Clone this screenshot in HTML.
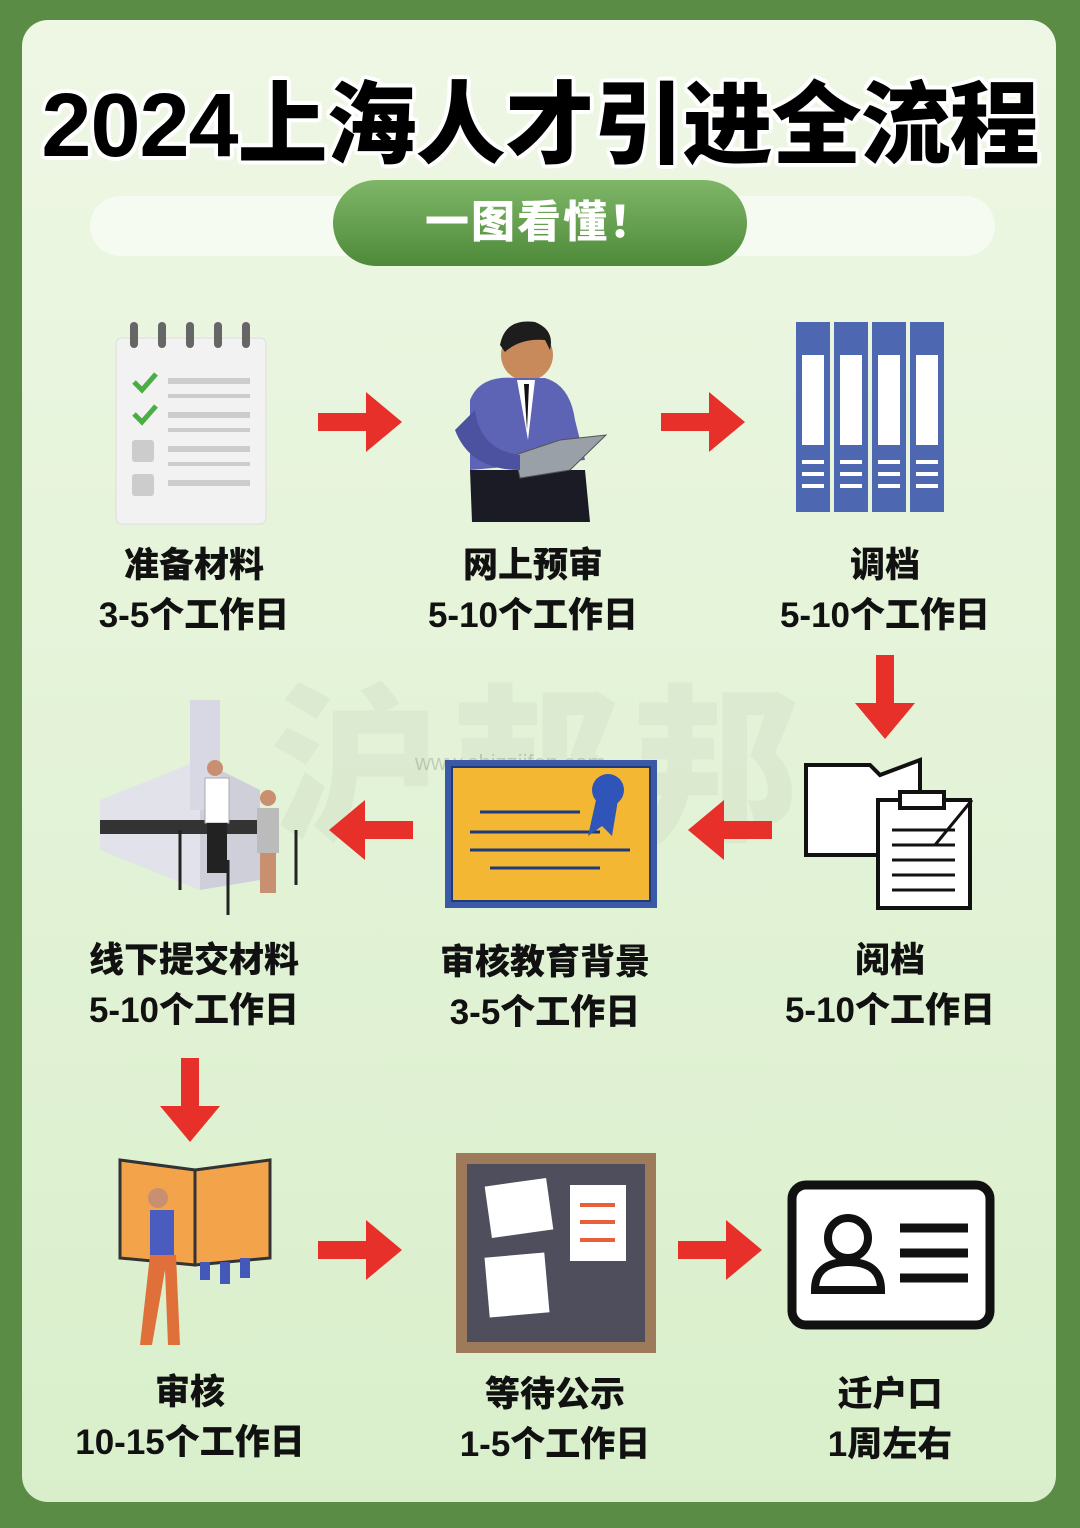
<!DOCTYPE html>
<html><head><meta charset="utf-8"><style>
*{margin:0;padding:0;box-sizing:border-box}
body{width:1080px;height:1528px;background:#5b8c46;position:relative;overflow:hidden;font-family:"Liberation Sans","Noto Sans CJK SC",sans-serif}
.inner{position:absolute;left:22px;top:20px;width:1034px;height:1482px;border-radius:26px;background:linear-gradient(#eef7e4,#d9efcb)}
.title{position:absolute;left:0;width:1080px;top:52px;text-align:center;font-size:90px;font-weight:900;color:#000;letter-spacing:-1px;text-shadow:0 0 6px #fff,3px 3px 0 #fff,-3px -3px 0 #fff,3px -3px 0 #fff,-3px 3px 0 #fff,0 4px 0 #fff,0 -4px 0 #fff,4px 0 0 #fff,-4px 0 0 #fff}
.band{position:absolute;left:90px;top:196px;width:905px;height:60px;border-radius:30px;background:rgba(255,255,255,.55)}
.pill{position:absolute;left:333px;top:180px;width:414px;height:86px;border-radius:43px;background:linear-gradient(#7fb668,#4e8a3a);color:#fff;font-size:44px;font-weight:900;text-align:center;line-height:86px;letter-spacing:2px}
.lab{position:absolute;width:360px;text-align:center;font-size:35px;font-weight:900;color:#111;line-height:50px}
.wm{position:absolute;left:270px;top:630px;font-size:170px;font-weight:900;color:rgba(0,0,0,.035);letter-spacing:10px}
.url{position:absolute;left:415px;top:750px;font-size:22px;color:rgba(0,0,0,.15)}
svg{position:absolute}
</style></head><body>
<div class="inner"></div>
<div class="title">2024上海人才引进全流程</div>
<div class="band"></div>
<div class="pill">一图看懂！</div>
<div class="wm">沪邦邦</div>
<div class="url">www.shjzzjifen.com</div>

<svg width="1080" height="1528" viewBox="0 0 1080 1528">
<defs><g id="ar"><path d="M0,-9 H48 V-30 L84,0 L48,30 V9 H0 Z" fill="#e8302a"/></g></defs>
<use href="#ar" transform="translate(318,422)"/>
<use href="#ar" transform="translate(661,422)"/>
<use href="#ar" transform="translate(885,655) rotate(90)"/>
<use href="#ar" transform="translate(413,830) rotate(180)"/>
<use href="#ar" transform="translate(772,830) rotate(180)"/>
<use href="#ar" transform="translate(190,1058) rotate(90)"/>
<use href="#ar" transform="translate(318,1250)"/>
<use href="#ar" transform="translate(678,1250)"/>

<rect x="116" y="338" width="150" height="186" rx="6" fill="#f2f2f2" stroke="#ddd"/>
<g fill="#666"><rect x="130" y="322" width="8" height="26" rx="4"/><rect x="158" y="322" width="8" height="26" rx="4"/><rect x="186" y="322" width="8" height="26" rx="4"/><rect x="214" y="322" width="8" height="26" rx="4"/><rect x="242" y="322" width="8" height="26" rx="4"/></g>
<g fill="#ccc"><rect x="168" y="378" width="82" height="6"/><rect x="168" y="412" width="82" height="6"/><rect x="168" y="446" width="82" height="6"/><rect x="168" y="480" width="82" height="6"/><rect x="168" y="394" width="82" height="4"/><rect x="168" y="428" width="82" height="4"/><rect x="168" y="462" width="82" height="4"/><rect x="132" y="440" width="22" height="22" rx="3"/><rect x="132" y="474" width="22" height="22" rx="3"/></g>
<path d="M134,382 l8,8 l14,-16 M134,414 l8,8 l14,-16" stroke="#48b042" stroke-width="5" fill="none"/>

<circle cx="527" cy="355" r="26" fill="#c88a5a"/>
<path d="M500,345 Q505,318 535,322 Q555,330 550,350 L545,340 Q520,338 505,352Z" fill="#1d1d1d"/>
<path d="M470,400 Q480,375 515,378 L545,378 Q570,385 575,420 L585,460 L470,470 Z" fill="#5d63b5"/>
<path d="M470,470 L585,470 L590,522 L472,522 Z" fill="#1b1b25"/>
<path d="M517,380 L535,380 L528,440Z" fill="#fff"/><path d="M524,384 L529,384 L527,430Z" fill="#111"/>
<path d="M515,455 L560,440 L606,435 L570,470 L520,478Z" fill="#9aa0a8" stroke="#555"/>
<path d="M455,430 Q470,470 520,470 L520,455 Q480,450 475,410Z" fill="#4d52a0"/>

<g fill="#4d68b0"><rect x="796" y="322" width="34" height="190"/><rect x="834" y="322" width="34" height="190"/><rect x="872" y="322" width="34" height="190"/><rect x="910" y="322" width="34" height="190"/></g>
<g fill="#fff"><rect x="802" y="355" width="22" height="90"/><rect x="840" y="355" width="22" height="90"/><rect x="878" y="355" width="22" height="90"/><rect x="916" y="355" width="22" height="90"/>
<rect x="802" y="460" width="22" height="4"/><rect x="840" y="460" width="22" height="4"/><rect x="878" y="460" width="22" height="4"/><rect x="916" y="460" width="22" height="4"/>
<rect x="802" y="472" width="22" height="4"/><rect x="840" y="472" width="22" height="4"/><rect x="878" y="472" width="22" height="4"/><rect x="916" y="472" width="22" height="4"/>
<rect x="802" y="484" width="22" height="4"/><rect x="840" y="484" width="22" height="4"/><rect x="878" y="484" width="22" height="4"/><rect x="916" y="484" width="22" height="4"/></g>

<path d="M806,765 L870,765 L880,775 L920,760 L920,855 L806,855Z" fill="#fff" stroke="#111" stroke-width="4"/>
<rect x="878" y="800" width="92" height="108" fill="#fff" stroke="#111" stroke-width="4"/>
<rect x="900" y="792" width="44" height="16" fill="#fff" stroke="#111" stroke-width="4"/>
<g stroke="#111" stroke-width="3"><line x1="892" y1="830" x2="955" y2="830"/><line x1="892" y1="845" x2="955" y2="845"/><line x1="892" y1="860" x2="955" y2="860"/><line x1="892" y1="875" x2="955" y2="875"/><line x1="892" y1="890" x2="955" y2="890"/><line x1="935" y1="845" x2="972" y2="800"/></g>

<rect x="445" y="760" width="212" height="148" fill="#3a5aa8"/>
<rect x="452" y="767" width="198" height="134" fill="#f4b733" stroke="#1e3a7a" stroke-width="2"/>
<g stroke="#1e3a7a" stroke-width="3"><line x1="480" y1="812" x2="580" y2="812"/><line x1="470" y1="832" x2="600" y2="832"/><line x1="470" y1="850" x2="630" y2="850"/><line x1="490" y1="868" x2="600" y2="868"/></g>
<circle cx="608" cy="790" r="16" fill="#2f55b8"/><path d="M596,800 L588,836 L602,826 L612,836 L618,800Z" fill="#2f55b8"/>

<path d="M100,800 L200,760 L200,890 L100,850Z" fill="#e2e2ea"/>
<path d="M200,760 L260,790 L260,880 L200,890Z" fill="#cfcfda"/>
<rect x="190" y="700" width="30" height="110" fill="#d8d8e4"/>
<rect x="100" y="820" width="160" height="14" fill="#333"/>
<circle cx="215" cy="768" r="8" fill="#c89070"/><rect x="205" y="778" width="24" height="45" fill="#fff" stroke="#aaa"/><rect x="207" y="823" width="20" height="50" fill="#222"/>
<circle cx="268" cy="798" r="8" fill="#c89070"/><rect x="257" y="808" width="22" height="45" fill="#bbb"/><rect x="260" y="853" width="16" height="40" fill="#c89070"/>
<g stroke="#222" stroke-width="3"><line x1="180" y1="830" x2="180" y2="890"/><line x1="228" y1="860" x2="228" y2="915"/><line x1="296" y1="830" x2="296" y2="885"/></g>

<path d="M120,1160 L195,1170 L195,1265 L120,1258Z" fill="#f3a34a" stroke="#333" stroke-width="3"/>
<path d="M195,1170 L270,1160 L270,1258 L195,1265Z" fill="#f3a34a" stroke="#333" stroke-width="3"/>
<g fill="#4358b8"><rect x="200" y="1262" width="10" height="18"/><rect x="220" y="1262" width="10" height="22"/><rect x="240" y="1258" width="10" height="20"/></g>
<circle cx="158" cy="1198" r="10" fill="#c89070"/>
<rect x="150" y="1210" width="24" height="45" fill="#4b5cc0"/>
<path d="M150,1255 L140,1345 L152,1345 L165,1270 L168,1345 L180,1345 L176,1255Z" fill="#e0703a"/>

<rect x="456" y="1153" width="200" height="200" fill="#9d7a5a"/>
<rect x="467" y="1164" width="178" height="178" fill="#4f4e5c"/>
<rect x="488" y="1182" width="62" height="52" fill="#fff" transform="rotate(-8 519 1208)"/>
<rect x="570" y="1185" width="56" height="76" fill="#fff"/>
<g stroke="#e8603a" stroke-width="4"><line x1="580" y1="1205" x2="615" y2="1205"/><line x1="580" y1="1222" x2="615" y2="1222"/><line x1="580" y1="1240" x2="615" y2="1240"/></g>
<rect x="487" y="1255" width="60" height="60" fill="#fff" transform="rotate(-5 517 1285)"/>

<rect x="792" y="1185" width="198" height="140" rx="14" fill="#fff" stroke="#111" stroke-width="9"/>
<circle cx="848" cy="1238" r="20" fill="none" stroke="#111" stroke-width="8"/>
<path d="M815,1290 Q815,1262 848,1262 Q881,1262 881,1290Z" fill="none" stroke="#111" stroke-width="8"/>
<g stroke="#111" stroke-width="9"><line x1="900" y1="1228" x2="968" y2="1228"/><line x1="900" y1="1253" x2="968" y2="1253"/><line x1="900" y1="1278" x2="968" y2="1278"/></g>
</svg>

<div class="lab" style="left:14px;top:541px">准备材料<br>3-5个工作日</div>
<div class="lab" style="left:353px;top:541px">网上预审<br>5-10个工作日</div>
<div class="lab" style="left:705px;top:541px">调档<br>5-10个工作日</div>
<div class="lab" style="left:14px;top:936px">线下提交材料<br>5-10个工作日</div>
<div class="lab" style="left:365px;top:938px">审核教育背景<br>3-5个工作日</div>
<div class="lab" style="left:710px;top:936px">阅档<br>5-10个工作日</div>
<div class="lab" style="left:10px;top:1368px">审核<br>10-15个工作日</div>
<div class="lab" style="left:375px;top:1370px">等待公示<br>1-5个工作日</div>
<div class="lab" style="left:710px;top:1370px">迁户口<br>1周左右</div>
</body></html>
